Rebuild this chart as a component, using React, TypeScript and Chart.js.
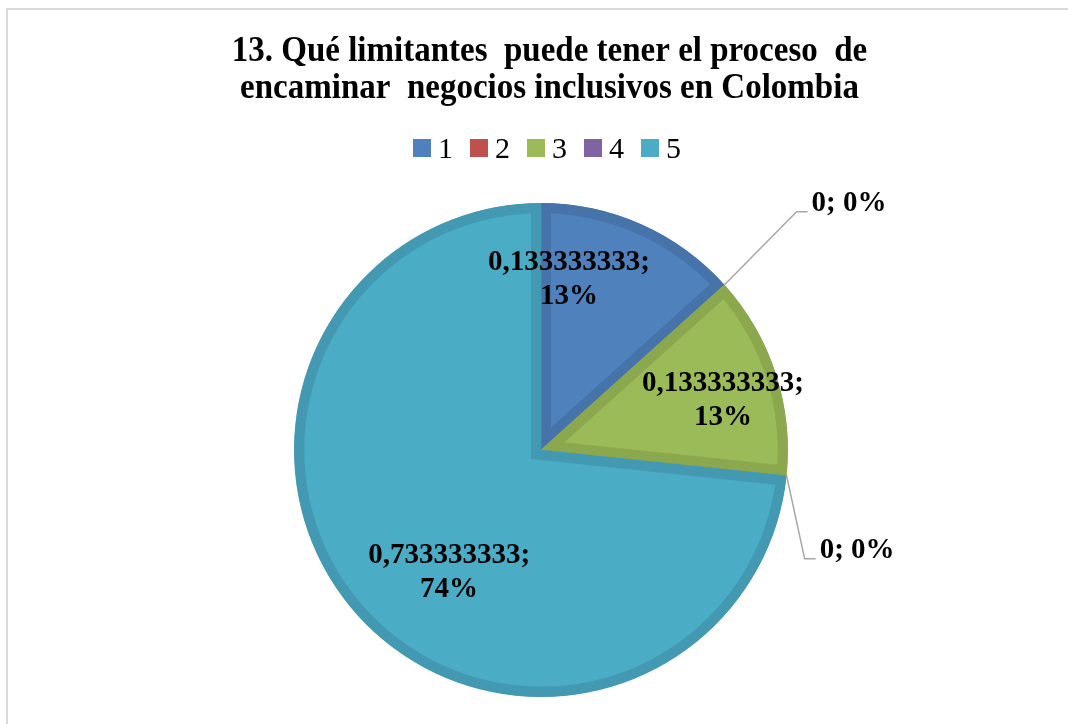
import React, { useEffect, useRef } from 'react';
import { Chart, registerables } from 'chart.js';

Chart.register(...registerables);

// ---- data ----
const categories = ['1', '2', '3', '4', '5'];
const values = [0.133333333, 0, 0.133333333, 0, 0.733333333];
const percentLabels = ['13%', '0%', '13%', '0%', '74%'];
const titleLines = [
  '13. Qué limitantes  puede tener el proceso  de',
  'encaminar  negocios inclusivos en Colombia',
];

// ---- styles ----
const fillColors = ['#4F81BD', '#C0504D', '#9BBB59', '#8064A2', '#4BACC6'];
const borderColors = ['#4673AA', '#AD4845', '#8BA84F', '#735A92', '#4399B2'];
const SERIF = '"Liberation Serif", "Times New Roman", serif';

// label placement for non-zero slices, in units of pie radius from the centre
const labelOffsets: (number[] | null)[] = [[0.113, -0.692], null, [0.737, -0.2], null, [-0.372, 0.498]];
// leader-line elbows for zero slices, pixel offsets from the slice edge point
const leaderOffsets: (number[] | null)[] = [null, [72, -73], null, [18, 83], null];

const fmt = (v: number) => (v === 0 ? '0' : v.toFixed(9).replace('.', ','));

// Title and legend drawn with the reference's slightly tall serif look
const headerPlugin = {
  id: 'header',
  afterDraw(chart: any) {
    const ctx = chart.ctx as CanvasRenderingContext2D;
    ctx.save();
    // title
    ctx.fillStyle = '#000';
    ctx.font = `bold 33px ${SERIF}`;
    ctx.textAlign = 'center';
    ctx.textBaseline = 'alphabetic';
    const baselines = [61, 98];
    titleLines.forEach((line, i) => {
      ctx.save();
      ctx.translate(549.5, baselines[i]);
      ctx.scale(1, 1.08);
      ctx.fillText(line, 0, 0);
      ctx.restore();
    });
    // legend
    ctx.font = `30px ${SERIF}`;
    ctx.textAlign = 'left';
    const box = 18;
    const gapText = 7;
    const gapItem = 17;
    const widths = categories.map((c) => box + gapText + ctx.measureText(c).width);
    const total = widths.reduce((a, b) => a + b, 0) + gapItem * (categories.length - 1);
    let x = 547 - total / 2;
    const baseY = 158;
    categories.forEach((c, i) => {
      ctx.fillStyle = fillColors[i];
      ctx.fillRect(x, baseY - 19, box, box);
      ctx.fillStyle = '#000';
      ctx.fillText(c, x + box + gapText, baseY);
      x += widths[i] + gapItem;
    });
    ctx.restore();
  },
};

const sliceLabels = {
  id: 'sliceLabels',
  afterDatasetsDraw(chart: any) {
    const ctx = chart.ctx as CanvasRenderingContext2D;
    const meta = chart.getDatasetMeta(0);
    ctx.save();
    ctx.fillStyle = '#000';
    ctx.font = `bold 29px ${SERIF}`;
    meta.data.forEach((arc: any, i: number) => {
      const p = arc.getProps(['x', 'y', 'startAngle', 'endAngle', 'outerRadius'], true);
      const v = values[i];
      if (v > 0) {
        const off = labelOffsets[i] || [0.6, 0];
        const cx = p.x + off[0] * p.outerRadius;
        const cy = p.y + off[1] * p.outerRadius;
        ctx.textAlign = 'center';
        ctx.textBaseline = 'middle';
        ctx.fillText(fmt(v) + ';', cx, cy - 17);
        ctx.fillText(percentLabels[i], cx, cy + 17);
      } else {
        const a = p.startAngle;
        const ex = p.x + Math.cos(a) * p.outerRadius;
        const ey = p.y + Math.sin(a) * p.outerRadius;
        const off = leaderOffsets[i] || [20, -20];
        const bx = ex + off[0];
        const by = ey + off[1];
        ctx.strokeStyle = '#A6A6A6';
        ctx.lineWidth = 1.5;
        ctx.beginPath();
        ctx.moveTo(ex, ey);
        ctx.lineTo(bx, by);
        ctx.lineTo(bx + 11, by);
        ctx.stroke();
        ctx.textAlign = 'left';
        ctx.textBaseline = 'middle';
        ctx.fillText(`${fmt(v)}; ${percentLabels[i]}`, bx + 15, by - 8);
      }
    });
    ctx.restore();
  },
};

export default function App() {
  const ref = useRef<HTMLCanvasElement>(null);
  useEffect(() => {
    if (!ref.current) return;
    const chart = new Chart(ref.current, {
      type: 'pie',
      data: {
        labels: categories,
        datasets: [
          {
            data: values,
            backgroundColor: fillColors,
            borderColor: borderColors,
            borderWidth: 10,
            borderAlign: 'inner',
            borderJoinStyle: 'miter',
            radius: 247,
          } as any,
        ],
      },
      options: {
        responsive: false,
        animation: false,
        events: [],
        layout: { padding: { left: 14, right: 0, top: 203, bottom: 27 } },
        plugins: {
          tooltip: { enabled: false },
          title: { display: false },
          legend: { display: false },
        },
      },
      plugins: [sliceLabels, headerPlugin],
    });
    return () => chart.destroy();
  }, []);

  return (
    <div
      style={{
        position: 'fixed',
        left: 0,
        top: 0,
        width: 1068,
        height: 724,
        overflow: 'hidden',
        background: '#fff',
      }}
    >
      <div
        style={{
          position: 'absolute',
          left: 6,
          top: 8,
          width: 3000,
          height: 3000,
          border: '2px solid #d9d9d9',
        }}
      />
      <canvas
        ref={ref}
        width={1068}
        height={724}
        style={{ position: 'absolute', left: 0, top: 0, display: 'block' }}
      />
    </div>
  );
}
